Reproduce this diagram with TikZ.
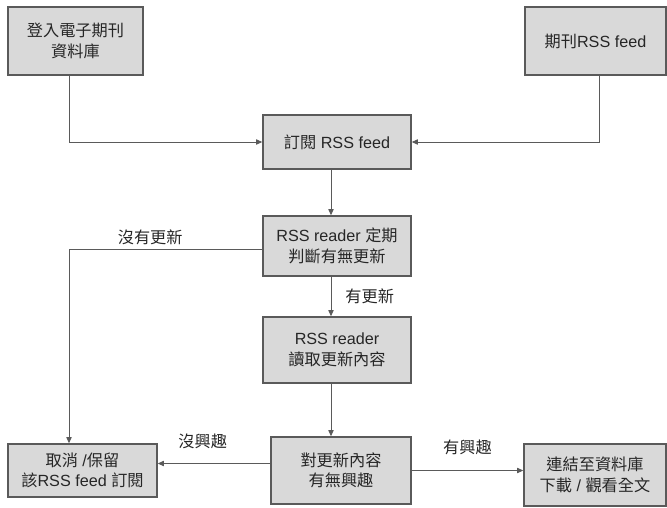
\documentclass[tikz,border=0pt]{standalone}
\usepackage{fontspec}
\setmainfont{Liberation Sans}
\newfontfamily\cjk{Noto Sans CJK TC}
\usepackage{tikz}
\usetikzlibrary{arrows.meta,positioning}
\definecolor{boxfill}{HTML}{D9D9D9}
\definecolor{boxline}{HTML}{5A5A5A}

\begin{document}
\begin{tikzpicture}
      [x=0.025cm, y=-0.025cm,
      font=\fontsize{11.5}{14.5}\selectfont,
      box style/.style={draw=boxline, line width=0.9pt, fill=boxfill, rectangle, align=center, inner sep=0pt, text=black!85},
      line style/.style={draw=boxline, line width=0.7pt, -{Triangle[length=4.5pt,width=3.8pt]}},
      label style/.style={inner sep=0pt, text=black!85},
      ]
      \useasboundingbox (0,0) rectangle (667,508);

      \node[box style, minimum width=3.375cm, minimum height=1.7cm] (login) at (75.5,41) {\cjk 登入電子期刊\\\cjk 資料庫};
      \node[box style, minimum width=3.525cm, minimum height=1.7cm] (journal) at (595.5,41) {{\cjk 期刊}RSS feed};
      \node[box style, minimum width=3.7cm, minimum height=1.35cm] (subscribe) at (337,142) {{\cjk 訂閱} RSS feed};
      \node[box style, minimum width=3.7cm, minimum height=1.5cm] (check) at (337,246) {RSS reader {\cjk 定期}\\\cjk 判斷有無更新};
      \node[box style, minimum width=3.7cm, minimum height=1.65cm] (read) at (337,350) {RSS reader\\\cjk 讀取更新內容};
      \node[box style, minimum width=3.5cm, minimum height=1.675cm] (interest) at (341,470.5) {\cjk 對更新內容\\\cjk 有無興趣};
      \node[box style, minimum width=3.725cm, minimum height=1.325cm] (cancel) at (82.5,470.5) {{\cjk 取消} /{\cjk 保留}\\{\cjk 該}RSS feed {\cjk 訂閱}};
      \node[box style, minimum width=3.55cm, minimum height=1.55cm] (fulltext) at (595,475) {\cjk 連結至資料庫\\{\cjk 下載} / {\cjk 觀看全文}};

      \coordinate (lft) at (69,0);
      \coordinate (mid) at (331,0);
      \coordinate (rgt) at (599,0);

      \draw[line style] (login.south -| lft) |- (subscribe.west);
      \draw[line style] (journal.south -| rgt) |- (subscribe.east);
      \draw[line style] (subscribe.south -| mid) -- (check.north -| mid);
      \draw[line style] ([yshift=-0.075cm]check.west) -| (cancel.north -| lft)
            node[label style, pos=0.29, above=0.08cm] {\cjk 沒有更新};
      \draw[line style] (check.south -| mid) -- (read.north -| mid)
            node[label style, midway, right=0.35cm] {\cjk 有更新};
      \draw[line style] (read.south -| mid) -- (interest.north -| mid);
      \draw[line style] ([yshift=0.175cm]interest.west) -- ([yshift=0.175cm]interest.west -| cancel.east)
            node[label style, pos=0.6, above=0.35cm] {\cjk 沒興趣};
      \draw[line style] (interest.east) -- (interest.east -| fulltext.west)
            node[label style, midway, above=0.375cm] {\cjk 有興趣};
\end{tikzpicture}
\end{document}
